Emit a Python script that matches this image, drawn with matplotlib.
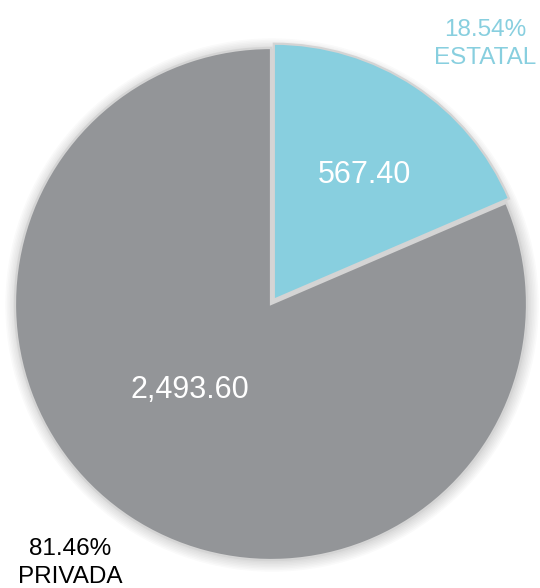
import matplotlib.pyplot as plt
from matplotlib.patches import Circle

plt.rcParams['font.family'] = ['Liberation Sans', 'DejaVu Sans']

labels = ['ESTATAL', 'PRIVADA']
values = [567.40, 2493.60]
shares = ['18.54%', '81.46%']
colors = ['#88cfdf', '#939598']

fig = plt.figure(figsize=(5.4, 5.88), dpi=100)
ax = fig.add_axes([0, 0, 1, 1])

# pixel layout: centre (271, 304), radius 256
r_px = 256.0
cx, cy = 271.0, 304.0

# soft shadow behind the pie
for k in range(8):
    ax.add_patch(Circle((0.004, -0.004), 1 + 0.006 * k, color='black',
                        alpha=0.018, lw=0, zorder=0))

wedges, _ = ax.pie(values, colors=colors, startangle=90, counterclock=False,
                   explode=[0.02, 0], radius=1,
                   wedgeprops=dict(edgecolor='#d4d4d4', linewidth=1.6))
for w in wedges:
    w.set_zorder(2)

# pie() resets the limits, so set them afterwards
ax.set_xlim(-cx / r_px, (540 - cx) / r_px)
ax.set_ylim((cy - 588) / r_px, cy / r_px)
ax.set_aspect('equal')
ax.axis('off')

ax.text((365 - cx) / r_px, (cy - 175) / r_px, f'{values[0]:,.2f}',
        color='white', fontsize=22, ha='center', va='center', zorder=3)
ax.text((190 - cx) / r_px, (cy - 390) / r_px, f'{values[1]:,.2f}',
        color='white', fontsize=22, ha='center', va='center', zorder=3)

ax.text((485 - cx) / r_px, (cy - 44) / r_px, shares[0] + '\n' + labels[0],
        color=colors[0], fontsize=17.5, ha='center', va='center',
        linespacing=1.3)
ax.text((70 - cx) / r_px, (cy - 563) / r_px, shares[1] + '\n' + labels[1],
        color='black', fontsize=17.5, ha='center', va='center',
        linespacing=1.3)

fig.savefig('out.png', dpi=100)
